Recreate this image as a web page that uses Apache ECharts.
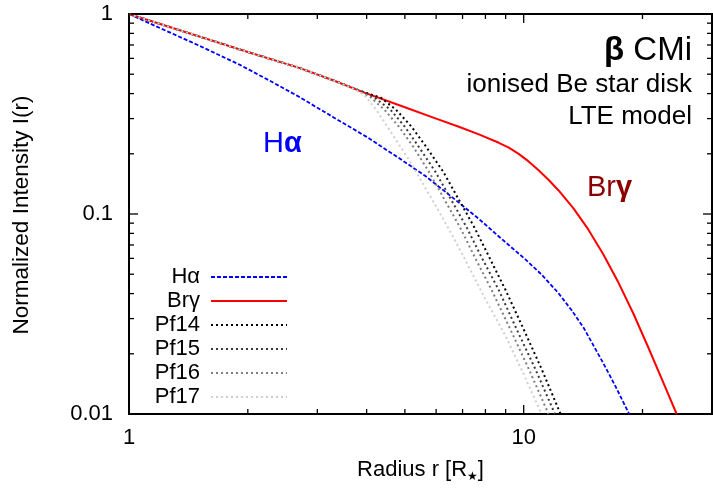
<!DOCTYPE html>
<html>
<head>
<meta charset="utf-8">
<script src="https://cdn.jsdelivr.net/npm/echarts@6/dist/echarts.min.js"></script>
<style>
  html, body { margin: 0; padding: 0; background: #fff; }
  #chart { width: 713px; height: 488px; }
</style>
</head>
<body>
<div id="chart"></div>
<script>
// Radial intensity profiles of a LTE ionised Be star disk (beta CMi).
// r in stellar radii, I(r) normalised to the stellar surface value.
const haR  = [1, 1.17, 1.5, 1.91, 2.3, 2.7, 3.3, 4.0, 4.8, 5.66, 6.85, 7.7, 8.65, 10.1, 11.1, 12.25, 13.2, 14.2, 15.9, 17.1, 18.5];
const haI  = [1, 0.869, 0.697, 0.557, 0.458, 0.385, 0.304, 0.243, 0.192, 0.154, 0.114, 0.0945, 0.0772, 0.0593, 0.0498, 0.0402, 0.0332, 0.0269, 0.018, 0.0137, 0.01];

const brgR = [1, 1.5, 2, 2.7, 3.3, 3.9, 5, 6, 6.85, 7.7, 8.65, 9.17, 9.71, 10.29, 10.91, 11.57, 12.26, 13.37, 14.59, 15.92, 17.38, 18.96, 20.69, 22.57, 24.41];
const brgI = [1, 0.774, 0.646, 0.538, 0.465, 0.408, 0.342, 0.300, 0.273, 0.250, 0.227, 0.2146, 0.1998, 0.1832, 0.1656, 0.148, 0.1311, 0.1066, 0.0835, 0.0628, 0.0454, 0.0318, 0.0215, 0.0144, 0.01];

const pf14R = [1, 1.5, 2, 2.7, 3.3, 3.99, 4.35, 4.75, 5.2, 5.66, 6.25, 6.85, 7.5, 8.16, 9.0, 10, 11.1, 12.4];
const pf14I = [1, 0.774, 0.646, 0.538, 0.465, 0.403, 0.381, 0.332, 0.273, 0.217, 0.163, 0.118, 0.0857, 0.0614, 0.0416, 0.0265, 0.0168, 0.01];

const pf15R = [1, 1.5, 2, 2.7, 3.3, 3.88, 4.2, 4.6, 5.0, 5.42, 5.97, 6.55, 7.17, 7.8, 8.65, 9.6, 10.7, 12.0];
const pf15I = [1, 0.774, 0.646, 0.538, 0.465, 0.41, 0.38, 0.332, 0.273, 0.217, 0.163, 0.118, 0.0857, 0.0614, 0.0416, 0.0265, 0.0168, 0.01];

const pf16R = [1, 1.5, 2, 2.7, 3.3, 3.78, 4.08, 4.44, 4.83, 5.25, 5.75, 6.3, 6.9, 7.5, 8.3, 9.25, 10.3, 11.56];
const pf16I = [1, 0.774, 0.646, 0.538, 0.465, 0.418, 0.385, 0.332, 0.273, 0.217, 0.163, 0.118, 0.0857, 0.0614, 0.0416, 0.0265, 0.0168, 0.01];

const pf17R = [1, 1.5, 2, 2.7, 3.3, 3.68, 3.95, 4.23, 4.65, 5.12, 5.6, 6.1, 6.6, 7.14, 8.0, 9, 10, 11.1];
const pf17I = [1, 0.774, 0.646, 0.538, 0.465, 0.425, 0.394, 0.332, 0.25, 0.187, 0.138, 0.103, 0.078, 0.058, 0.0375, 0.0245, 0.0158, 0.01];

// axis ranges and tick positions
const X_MIN = 1, X_MAX = 30, Y_MIN = 0.01, Y_MAX = 1;
const xMajorTicks = [1, 10];
const xMinorTicks = [2, 3, 4, 5, 6, 7, 8, 9, 20];
const yMajorTicks = [0.01, 0.1, 1];
const yMinorTicks = [0.02, 0.03, 0.04, 0.05, 0.06, 0.07, 0.08, 0.09,
                     0.2, 0.3, 0.4, 0.5, 0.6, 0.7, 0.8, 0.9];

const FONT = '"Liberation Sans", Arial, Helvetica, sans-serif';

const zip = (a, b) => a.map((v, i) => [v, b[i]]);

// tick marks drawn inward on all four sides of the frame
function xTickSeries(values, len) {
  return {
    type: 'custom', silent: true, z: 5, clip: false,
    data: values.map(v => [v, Y_MIN]),
    renderItem: function (params, api) {
      const v = api.value(0);
      const b = api.coord([v, Y_MIN]);
      const t = api.coord([v, Y_MAX]);
      const st = { stroke: '#000', lineWidth: 1.3 };
      return { type: 'group', children: [
        { type: 'line', shape: { x1: b[0], y1: b[1], x2: b[0], y2: b[1] - len }, style: st },
        { type: 'line', shape: { x1: t[0], y1: t[1], x2: t[0], y2: t[1] + len }, style: st }
      ]};
    }
  };
}
function yTickSeries(values, len) {
  return {
    type: 'custom', silent: true, z: 5, clip: false,
    data: values.map(v => [X_MIN, v]),
    renderItem: function (params, api) {
      const v = api.value(1);
      const l = api.coord([X_MIN, v]);
      const r = api.coord([X_MAX, v]);
      const st = { stroke: '#000', lineWidth: 1.3 };
      return { type: 'group', children: [
        { type: 'line', shape: { x1: l[0], y1: l[1], x2: l[0] + len, y2: l[1] }, style: st },
        { type: 'line', shape: { x1: r[0], y1: r[1], x2: r[0] - len, y2: r[1] }, style: st }
      ]};
    }
  };
}

function profile(name, r, I, color, width, dash) {
  return {
    name: name, type: 'line', data: zip(r, I),
    symbol: 'none', smooth: false,
    lineStyle: { color: color, width: width, type: dash, join: 'round' },
    itemStyle: { color: color },
    z: 3
  };
}

const chart = echarts.init(document.getElementById('chart'), null, { renderer: 'canvas' });

chart.setOption({
  animation: false,
  backgroundColor: '#fff',
  textStyle: { fontFamily: FONT },
  grid: {
    left: 129, right: 1, top: 14, bottom: 73,
    show: true, borderColor: '#000', borderWidth: 2, backgroundColor: 'transparent'
  },
  xAxis: {
    type: 'log', logBase: 10, min: X_MIN, max: X_MAX,
    axisLine: { show: false }, axisTick: { show: false }, splitLine: { show: false },
    axisLabel: {
      fontSize: 22, color: '#000', fontFamily: FONT, margin: 13,
      showMinLabel: true, showMaxLabel: false,
      formatter: v => String(Number(Number(v).toPrecision(6)))
    },
    name: 'Radius r [R{s|★}]',
    nameLocation: 'middle', nameGap: 43,
    nameTextStyle: {
      fontSize: 22, color: '#000', fontFamily: FONT,
      rich: { s: { fontSize: 12, color: '#000', fontFamily: 'DejaVu Sans', padding: [14, 0, 0, 0] } }
    }
  },
  yAxis: {
    type: 'log', logBase: 10, min: Y_MIN, max: Y_MAX,
    axisLine: { show: false }, axisTick: { show: false }, splitLine: { show: false },
    axisLabel: {
      fontSize: 22, color: '#000', fontFamily: FONT, margin: 16,
      formatter: v => String(Number(Number(v).toPrecision(6)))
    }
  },
  legend: {
    data: ['Hα', 'Brγ', 'Pf14', 'Pf15', 'Pf16', 'Pf17'],
    orient: 'vertical', align: 'right',
    right: 420, top: 261,
    itemWidth: 76, itemHeight: 14, itemGap: 2.0,
    selectedMode: false,
    itemStyle: { opacity: 0, borderWidth: 0 },
    textStyle: { fontSize: 22, color: '#000', fontFamily: FONT, lineHeight: 22, padding: [0, 6, 0, 0] }
  },
  series: [
    profile('Hα',   haR,   haI,   '#0000ff', 1.8, [4, 2]),
    profile('Brγ',  brgR,  brgI,  '#ff0000', 2,   'solid'),
    profile('Pf14', pf14R, pf14I, '#000000', 2,   [2, 3]),
    profile('Pf15', pf15R, pf15I, '#3a3a3a', 2,   [2, 3]),
    profile('Pf16', pf16R, pf16I, '#7e7e7e', 2,   [2, 3]),
    profile('Pf17', pf17R, pf17I, '#cfcfcf', 2,   [2, 3]),
    xTickSeries(xMajorTicks, 9),
    xTickSeries(xMinorTicks, 5),
    yTickSeries(yMajorTicks, 9),
    yTickSeries(yMinorTicks, 5)
  ],
  graphic: [
    {
      type: 'text', z: 10, x: 22, y: 215, rotation: Math.PI / 2,
      style: { x: 0, y: 0, align: 'center', verticalAlign: 'middle',
               text: 'Normalized Intensity I(r)', font: '22.5px ' + FONT, fill: '#000' }
    },
    {
      type: 'text', z: 10,
      style: {
        x: 692, y: 51, align: 'right', verticalAlign: 'middle',
        text: '{b|β} CMi',
        font: '33px ' + FONT, fill: '#000',
        rich: { b: { fontWeight: 'bold', fontSize: 33, fontFamily: FONT } }
      }
    },
    {
      type: 'text', z: 10,
      style: { x: 692, y: 85, align: 'right', verticalAlign: 'middle',
               text: 'ionised Be star disk', font: '26px ' + FONT, fill: '#000' }
    },
    {
      type: 'text', z: 10,
      style: { x: 692, y: 117, align: 'right', verticalAlign: 'middle',
               text: 'LTE model', font: '26px ' + FONT, fill: '#000' }
    },
    {
      type: 'text', z: 10,
      style: { x: 263, y: 144, align: 'left', verticalAlign: 'middle',
               text: 'H{b|α}', font: '29px ' + FONT, fill: '#0000ff',
               rich: { b: { fontWeight: 'bold', fontSize: 29, fontFamily: FONT, color: '#0000ff' } } }
    },
    {
      type: 'text', z: 10,
      style: { x: 587, y: 188, align: 'left', verticalAlign: 'middle',
               text: 'Br{b|γ}', font: '29px ' + FONT, fill: '#8b0000',
               rich: { b: { fontWeight: 'bold', fontSize: 29, fontFamily: FONT, color: '#8b0000' } } }
    }
  ]
});
</script>
</body>
</html>
